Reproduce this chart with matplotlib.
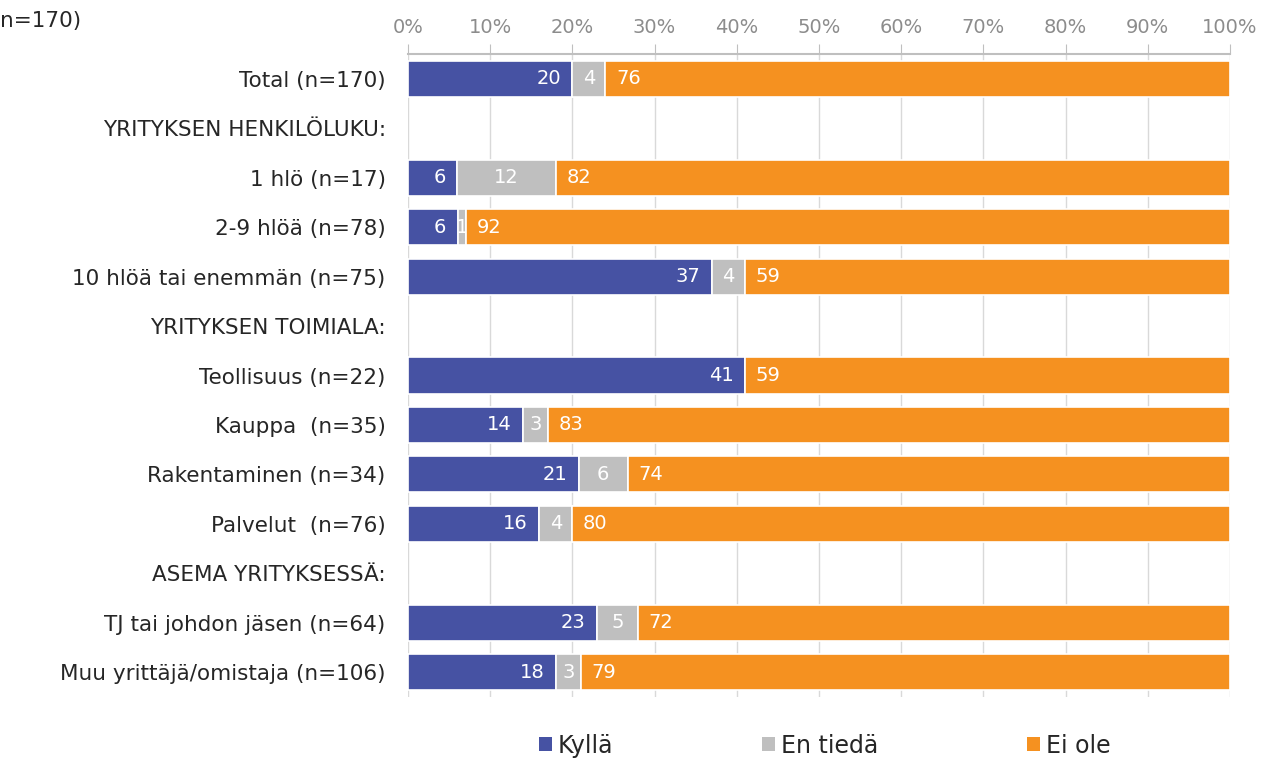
import matplotlib
matplotlib.use('Agg')
import matplotlib.pyplot as plt
import numpy as np

# ── Data ─────────────────────────────────────────────────────
categories = [
    "Total (n=170)",
    "YRITYKSEN HENKILÖLUKU:",
    "1 hlö (n=17)",
    "2-9 hlöä (n=78)",
    "10 hlöä tai enemmän (n=75)",
    "YRITYKSEN TOIMIALA:",
    "Teollisuus (n=22)",
    "Kauppa  (n=35)",
    "Rakentaminen (n=34)",
    "Palvelut  (n=76)",
    "ASEMA YRITYKSESSÄ:",
    "TJ tai johdon jäsen (n=64)",
    "Muu yrittäjä/omistaja (n=106)",
]
# None = header row without a bar
kylla    = [20, None, 6, 6, 37, None, 41, 14, 21, 16, None, 23, 18]
en_tieda = [4, None, 12, 1, 4, None, 0, 3, 6, 4, None, 5, 3]
ei_ole   = [76, None, 82, 92, 59, None, 59, 83, 74, 80, None, 72, 79]

series_names = ["Kyllä", "En tiedä", "Ei ole"]
colors = ["#4652A3", "#BFBFBF", "#F59120"]
xticks = list(range(0, 101, 10))

# ── Plot ─────────────────────────────────────────────────────
fig = plt.figure(figsize=(12.65, 7.65), dpi=100)
ax = fig.add_axes([0.3225, 0.0889, 0.6498, 0.8405])

y = np.arange(len(categories))
bar_h = 0.73
label_font = dict(color="white", fontsize=14, va="center")

for i in range(len(categories)):
    if kylla[i] is None:
        continue
    vals = [kylla[i], en_tieda[i], ei_ole[i]]
    total = sum(vals)  # 100 % stacked, like the source chart
    left = 0
    for j, v in enumerate(vals):
        w = v / total * 100
        if v > 0:
            ax.barh(y[i], w, left=left, height=bar_h, color=colors[j],
                    edgecolor="white", linewidth=1.2, zorder=3)
            if j == 0:
                ax.text(left + w - 1.4, y[i], str(v), ha="right", **label_font)
            elif j == 1:
                ax.text(left + w / 2, y[i], str(v), ha="center", **label_font)
            else:
                ax.text(left + 1.3, y[i], str(v), ha="left", **label_font)
        left += w

# legend handles
for name, c in zip(series_names, colors):
    ax.barh(np.nan, 0, color=c, label=name)

ax.set_xlim(0, 100)
ax.set_ylim(len(categories) - 0.5, -0.5)
ax.set_yticks(y)
ax.set_yticklabels(categories, fontsize=15.5, color="#262626")
ax.set_xticks(xticks)
ax.set_xticklabels([f"{t}%" for t in xticks], fontsize=14, color="#8C8C8C")
ax.xaxis.tick_top()
ax.tick_params(axis="x", length=7, color="#BFBFBF", pad=5)
ax.tick_params(axis="y", length=0, pad=16)
ax.grid(axis="x", color="#D9D9D9", linewidth=1, zorder=0)
for s in ["left", "right", "bottom"]:
    ax.spines[s].set_visible(False)
ax.spines["top"].set_color("#BFBFBF")
ax.spines["top"].set_linewidth(1.5)

leg = fig.legend(loc="lower center", bbox_to_anchor=(0.652, -0.018), ncol=3,
                 frameon=False, fontsize=17, handlelength=0.55, handleheight=0.55,
                 handletextpad=0.25, columnspacing=6.3)
for t in leg.get_texts():
    t.set_color("#262626")

# title fragment visible at the top-left of the source
fig.text(0.0, 0.972, "n=170)", fontsize=15.5, color="#262626", va="center")

fig.savefig("out.png", dpi=100)
